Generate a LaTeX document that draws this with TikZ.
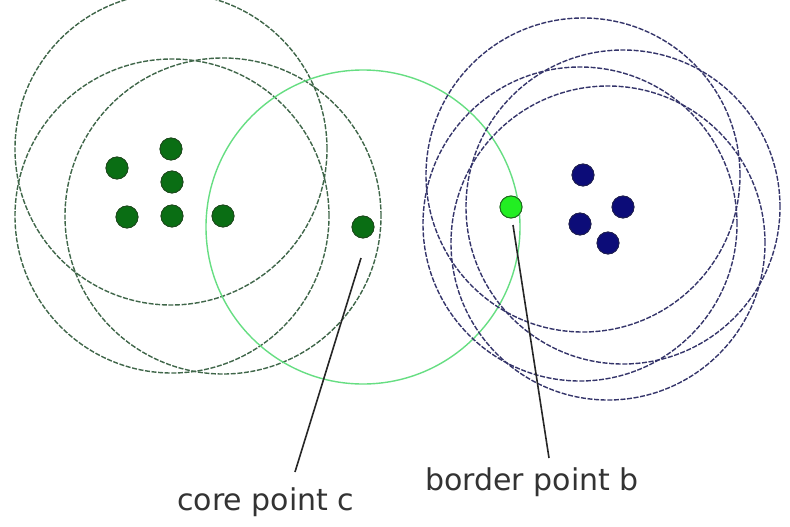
\documentclass[tikz,border=0pt]{standalone}
\usepackage{fontspec}
\setmainfont{DejaVu Sans}
\definecolor{coredot}{HTML}{0A6E14}
\definecolor{coreedge}{HTML}{1E4A1E}
\definecolor{corering}{HTML}{3F6649}
\definecolor{reachring}{HTML}{66DE82}
\definecolor{bluedot}{HTML}{0C0C78}
\definecolor{blueedge}{HTML}{202050}
\definecolor{bluering}{HTML}{34346A}
\definecolor{borderdot}{HTML}{22EE22}
\definecolor{borderedge}{HTML}{1F6A1F}
\definecolor{labeltext}{HTML}{333333}
\tikzset{
  coredotstyle/.style={circle, fill=coredot, draw=coreedge, line width=0.8pt, minimum size=22pt, inner sep=0pt},
  bluedotstyle/.style={circle, fill=bluedot, draw=blueedge, line width=0.8pt, minimum size=22pt, inner sep=0pt},
  borderdotstyle/.style={circle, fill=borderdot, draw=borderedge, line width=0.9pt, minimum size=22pt, inner sep=0pt},
  corecircle/.style={draw=corering, line width=1.4pt, dash pattern=on 5pt off 1.6pt},
  bluecircle/.style={draw=bluering, line width=1.4pt, dash pattern=on 5pt off 1.6pt},
  reachcircle/.style={draw=reachring, line width=1.4pt},
  pointer/.style={draw=black!85, line width=1.6pt},
  labelstyle/.style={text=labeltext, font=\fontsize{30}{36}\selectfont, inner sep=0pt, anchor=base west}
}
\begin{document}
\begin{tikzpicture}[x=1pt, y=-1pt]
\useasboundingbox (0,0) rectangle (790,527);
\fill[white] (0,0) rectangle (790,527);
% core points (left cluster)
\node[coredotstyle] (p1) at (117,168) {};
\node[coredotstyle] (p2) at (171,149) {};
\node[coredotstyle] (p3) at (172,182) {};
\node[coredotstyle] (p4) at (127,217) {};
\node[coredotstyle] (p5) at (172,216) {};
\node[coredotstyle] (p6) at (223,216) {};
\node[coredotstyle] (c) at (363,227) {};
% blue cluster
\node[bluedotstyle] (q1) at (583,175) {};
\node[bluedotstyle] (q2) at (623,207) {};
\node[bluedotstyle] (q3) at (580,224) {};
\node[bluedotstyle] (q4) at (608,243) {};
% border point
\node[borderdotstyle] (b) at (511,207) {};
% neighbourhood circles
\draw[corecircle] (p2) circle[radius=156pt];
\draw[corecircle] (p5) circle[radius=157pt];
\draw[corecircle] (p6) circle[radius=158pt];
\draw[reachcircle] (c) circle[radius=157pt];
\draw[bluecircle] (q1) circle[radius=157pt];
\draw[bluecircle] (q2) circle[radius=157pt];
\draw[bluecircle] (q3) circle[radius=157pt];
\draw[bluecircle] (q4) circle[radius=157pt];
% redraw dots on top
\node[coredotstyle] at (p1) {};
\node[coredotstyle] at (p2) {};
\node[coredotstyle] at (p3) {};
\node[coredotstyle] at (p4) {};
\node[coredotstyle] at (p5) {};
\node[coredotstyle] at (p6) {};
\node[coredotstyle] at (c) {};
\node[bluedotstyle] at (q1) {};
\node[bluedotstyle] at (q2) {};
\node[bluedotstyle] at (q3) {};
\node[bluedotstyle] at (q4) {};
\node[borderdotstyle] at (b) {};
% labels and pointers
\node[labelstyle] (lc) at (177,510) {core point c};
\node[labelstyle] (lb) at (425,490) {border point b};
\coordinate (cs) at (361,258);
\coordinate (ce) at (295,472);
\coordinate (bs) at (513,225);
\coordinate (be) at (549,458);
\draw[pointer] (cs) -- (ce);
\draw[pointer] (bs) -- (be);
\end{tikzpicture}
\end{document}
